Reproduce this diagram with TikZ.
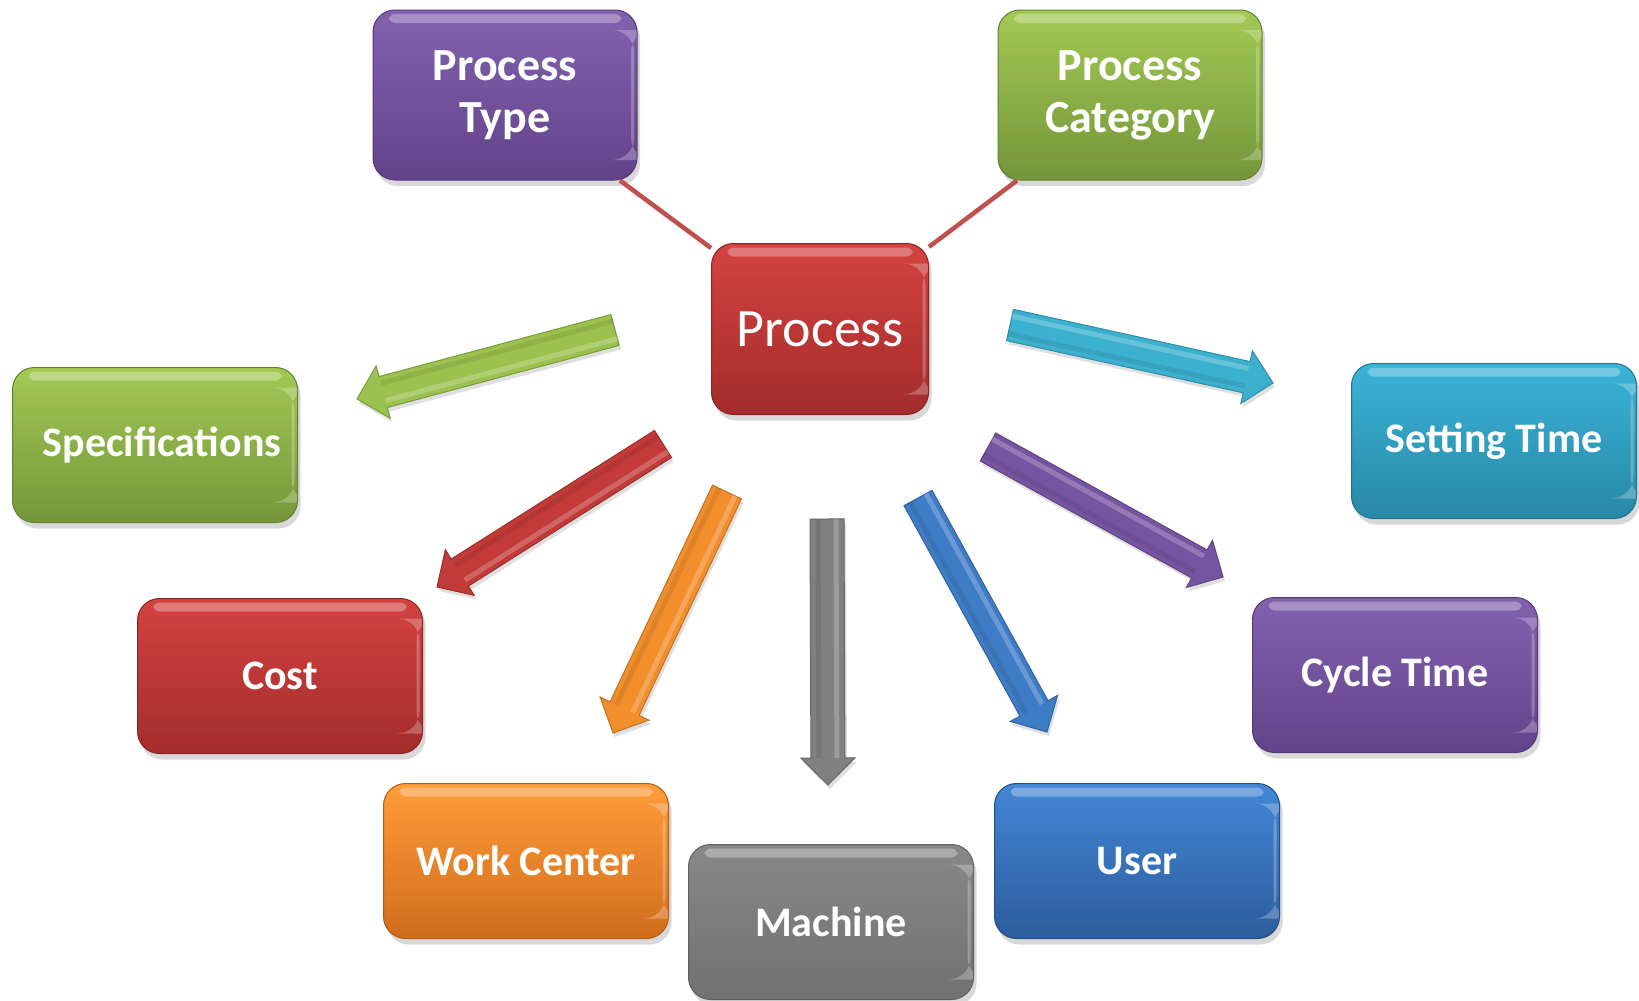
\documentclass[tikz,border=0pt]{standalone}
\usepackage{fontspec}
\setmainfont{Carlito}
\usetikzlibrary{calc,shadows}

\definecolor{pTop}{HTML}{8262AE}\definecolor{pBot}{HTML}{62438A}
\definecolor{gTop}{HTML}{A3C954}\definecolor{gBot}{HTML}{74963A}
\definecolor{rTop}{HTML}{D34341}\definecolor{rBot}{HTML}{A32C2B}
\definecolor{cTop}{HTML}{3AB3D7}\definecolor{cBot}{HTML}{2888A6}
\definecolor{oTop}{HTML}{FF9C3A}\definecolor{oBot}{HTML}{D06D1C}
\definecolor{kTop}{HTML}{888888}\definecolor{kBot}{HTML}{717171}
\definecolor{bTop}{HTML}{4387D6}\definecolor{bBot}{HTML}{2C5C9C}
\definecolor{lineRed}{HTML}{C0504D}
\definecolor{aGreen}{HTML}{9BC24F}
\definecolor{aRed}{HTML}{C23B39}
\definecolor{aOrange}{HTML}{F28F2C}
\definecolor{aGray}{HTML}{808080}
\definecolor{aBlue}{HTML}{3F7CC6}
\definecolor{aPurple}{HTML}{7555A0}
\definecolor{aCyan}{HTML}{3BB0CF}

\newcommand\lblfont{\fontsize{42}{52}\selectfont\bfseries}
\newcommand\toplblfont{\fontsize{46}{52}\selectfont\bfseries}
\newcommand\procfont{\fontsize{54}{62}\selectfont}

\tikzset{
  tbox/.style 2 args={rounded corners=22pt, top color=#1, bottom color=#2,
    draw=#2!85!black, line width=1pt, text=white, align=center, inner sep=0pt,
    font=\lblfont,
    drop shadow={shadow xshift=3pt, shadow yshift=-6pt, opacity=0.3},
    path picture={\fill[white, opacity=0.3, rounded corners=6pt]
      ([xshift=16pt,yshift=-4pt]path picture bounding box.north west) rectangle
      ([xshift=-16pt,yshift=-13pt]path picture bounding box.north east);
      \fill[white, opacity=0.25]
      ([xshift=-6pt,yshift=-20pt]path picture bounding box.north east) rectangle
      ([xshift=-3pt,yshift=20pt]path picture bounding box.south east);}},
  wide/.style={minimum width=285pt, minimum height=155pt},
  tall/.style={minimum width=264pt, minimum height=170pt, font=\toplblfont},
  connline/.style={draw=lineRed, line width=4.5pt},
  arrowsty/.style={line width=1pt, drop shadow={shadow xshift=2pt, shadow yshift=-4pt, opacity=0.25}},
}

\newcommand\fatarrow[4]{% tail, tip, colour, shaft half width
  \path ($(#2)!27pt!(#1)$) coordinate (#1h);
  \filldraw[arrowsty, fill=#3, draw=#3!80!black]
    ($(#1)!#4!90:(#2)$) -- ($(#1h)!#4!90:(#2)$) -- ($(#1h)!27pt!90:(#2)$) -- (#2)
    -- ($(#1h)!27pt!-90:(#2)$) -- ($(#1h)!#4!-90:(#2)$) -- ($(#1)!#4!-90:(#2)$) -- cycle;
  \draw[white, opacity=0.22, line width=5pt]
    ($(#1)!9pt!90:(#2)$) -- ($(#1h)!9pt!90:(#2)$);
  \draw[black, opacity=0.08, line width=5pt]
    ($(#1)!9pt!-90:(#2)$) -- ($(#1h)!9pt!-90:(#2)$);
}

\begin{document}
\begin{tikzpicture}[x=1pt, y=-1pt]
  \fill[white] (0,0) rectangle (1639,1001);
  \useasboundingbox (0,0) rectangle (1639,1001);

  % boxes
  \node[tbox={pTop}{pBot}, tall] (ptype) at (505,95) {Process\\Type};
  \node[tbox={gTop}{gBot}, tall] (pcat) at (1130,95) {Process\\Category};
  \node[tbox={rTop}{rBot}, minimum width=217pt, minimum height=171pt, font=\procfont] (proc) at (820,329) {Process};
  \node[tbox={gTop}{gBot}, wide] (spec) at (155,445) {\hspace*{14pt}Specifications};
  \node[tbox={cTop}{cBot}, wide] (setting) at (1494,441) {Setting Time};
  \node[tbox={rTop}{rBot}, wide] (cost) at (280,676) {Cost};
  \node[tbox={pTop}{pBot}, wide] (cycle) at (1395,675) {Cycle Time};
  \node[tbox={oTop}{oBot}, wide] (work) at (526,861) {Work Center};
  \node[tbox={kTop}{kBot}, wide] (machine) at (831,922) {Machine};
  \node[tbox={bTop}{bBot}, wide] (user) at (1137,861) {User};

  % connecting lines
  \draw[connline] (ptype) -- (proc);
  \draw[connline] (pcat) -- (proc);

  % arrow end points
  \coordinate (gT) at (615,330);  \coordinate (gP) at (357,399);
  \coordinate (rT) at (663,444);  \coordinate (rP) at (437,587);
  \coordinate (oT) at (727,492);  \coordinate (oP) at (613,733);
  \coordinate (kT) at (827,519);  \coordinate (kP) at (828,785);
  \coordinate (bT) at (918,498);  \coordinate (bP) at (1047,732);
  \coordinate (uT) at (988,447);  \coordinate (uP) at (1223,577);
  \coordinate (cT) at (1010,325); \coordinate (cP) at (1273,383);

  \fatarrow{gT}{gP}{aGreen}{16pt}
  \fatarrow{rT}{rP}{aRed}{16pt}
  \fatarrow{oT}{oP}{aOrange}{16pt}
  \fatarrow{kT}{kP}{aGray}{17pt}
  \fatarrow{bT}{bP}{aBlue}{16pt}
  \fatarrow{uT}{uP}{aPurple}{16pt}
  \fatarrow{cT}{cP}{aCyan}{16pt}
\end{tikzpicture}
\end{document}
